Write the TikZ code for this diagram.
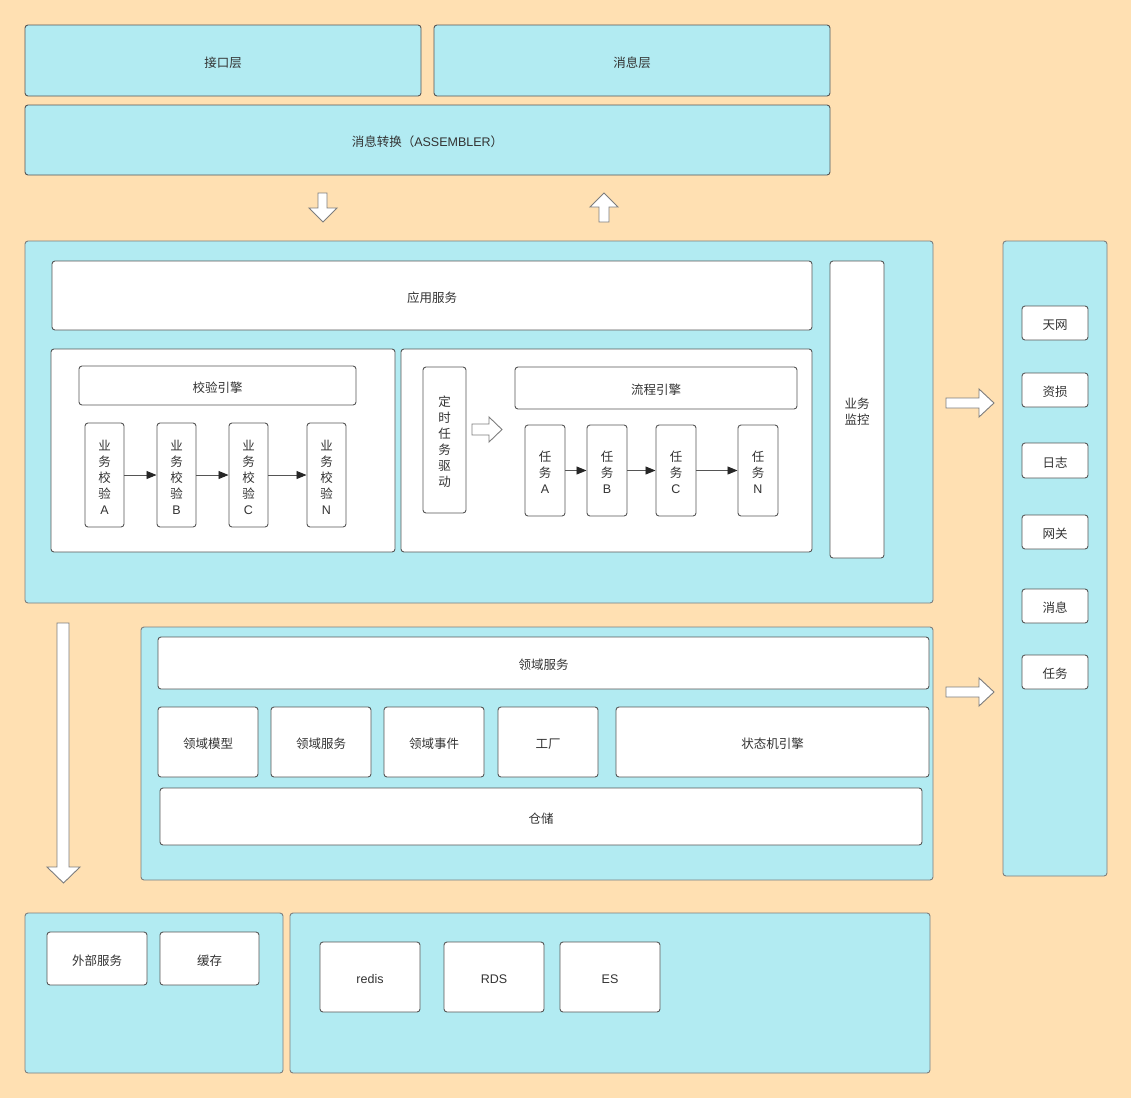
\documentclass[tikz,border=0pt]{standalone}
\usepackage{fontspec}
\setmainfont{Noto Sans CJK SC}
\newfontfamily\lat{Liberation Sans}
\usetikzlibrary{arrows.meta}
\definecolor{peach}{RGB}{255,224,178}
\definecolor{cyanbg}{RGB}{178,235,242}
\definecolor{pborder}{RGB}{125,125,125}
\definecolor{bborder}{RGB}{85,85,85}
\definecolor{txt}{RGB}{51,51,51}
\newcommand\mkbox[7][]{\node[#1,minimum width={#5pt-#3pt},minimum height={#6pt-#4pt}] (#2) at ({(#3+#5)/2},{(#4+#6)/2}) {};
  \node[lbl] at ([yshift=-2pt]#2.center) {#7};}
\begin{document}
\begin{tikzpicture}[x=1pt,y=-1pt,
  every node/.style={inner sep=0pt,outer sep=0pt,text=txt,font=\fontsize{12.5}{16}\selectfont,align=center},
  lbl/.style={},
  panel/.style={draw=pborder,fill=cyanbg,line width=0.9pt,rounded corners=3pt},
  wbox/.style={draw=bborder,fill=white,line width=0.9pt,rounded corners=3pt},
  cbox/.style={draw=bborder,fill=cyanbg,line width=0.9pt,rounded corners=3pt},
  conn/.style={draw=bborder,line width=0.9pt,-{Triangle[length=10pt,width=8pt,fill=black!85,color=black!85]},shorten >=0.5pt},
  harrow/.style={draw=pborder,fill=white,line width=0.9pt,line join=miter}]
\fill[peach] (0,0) rectangle (1131,1098);
\useasboundingbox (0,0) rectangle (1131,1098);

% top layers
\mkbox[cbox]{jiekou}{25}{25}{421}{96}{接口层}
\mkbox[cbox]{xiaoxi}{434}{25}{830}{96}{消息层}
\mkbox[cbox]{zhuanhuan}{25}{105}{830}{175}{消息转换（{\lat ASSEMBLER}）}

% hollow arrows between top and app
\draw[harrow] (318,193) -- (327,193) -- (327,208) -- (337,208) -- (323,222) -- (309,208) -- (318,208) -- cycle;
\draw[harrow] (604,193) -- (618,207) -- (609,207) -- (609,222) -- (599,222) -- (599,207) -- (590,207) -- cycle;

% application panel
\mkbox[panel]{app}{25}{241}{933}{603}{}
\mkbox[wbox]{yingyong}{52}{261}{812}{330}{应用服务}
\mkbox[wbox]{jiankong}{830}{261}{884}{558}{业务\\监控}
\mkbox[wbox]{leftsub}{51}{349}{395}{552}{}
\mkbox[wbox]{jiaoyan}{79}{366}{356}{405}{校验引擎}
\mkbox[wbox]{va}{85}{423}{124}{527}{业\\务\\校\\验\\{\lat A}}
\mkbox[wbox]{vb}{157}{423}{196}{527}{业\\务\\校\\验\\{\lat B}}
\mkbox[wbox]{vc}{229}{423}{268}{527}{业\\务\\校\\验\\{\lat C}}
\mkbox[wbox]{vn}{307}{423}{346}{527}{业\\务\\校\\验\\{\lat N}}
\draw[conn] (va) -- (vb);
\draw[conn] (vb) -- (vc);
\draw[conn] (vc) -- (vn);

\mkbox[wbox]{rightsub}{401}{349}{812}{552}{}
\mkbox[wbox]{dingshi}{423}{367}{466}{513}{定\\时\\任\\务\\驱\\动}
\draw[harrow] (472,424) -- (489,424) -- (489,417) -- (502,429.5) -- (489,442) -- (489,435) -- (472,435) -- cycle;
\mkbox[wbox]{liucheng}{515}{367}{797}{409}{流程引擎}
\mkbox[wbox]{ta}{525}{425}{565}{516}{任\\务\\{\lat A}}
\mkbox[wbox]{tb}{587}{425}{627}{516}{任\\务\\{\lat B}}
\mkbox[wbox]{tc}{656}{425}{696}{516}{任\\务\\{\lat C}}
\mkbox[wbox]{tn}{738}{425}{778}{516}{任\\务\\{\lat N}}
\draw[conn] (ta) -- (tb);
\draw[conn] (tb) -- (tc);
\draw[conn] (tc) -- (tn);

% right panel
\mkbox[panel]{rpanel}{1003}{241}{1107}{876}{}
\mkbox[wbox]{tianwang}{1022}{306}{1088}{340}{天网}
\mkbox[wbox]{zisun}{1022}{373}{1088}{407}{资损}
\mkbox[wbox]{rizhi}{1022}{443}{1088}{478}{日志}
\mkbox[wbox]{wangguan}{1022}{515}{1088}{549}{网关}
\mkbox[wbox]{xiaoxi2}{1022}{589}{1088}{623}{消息}
\mkbox[wbox]{renwu}{1022}{655}{1088}{689}{任务}

\draw[harrow] (946,398) -- (979,398) -- (979,389) -- (994,403) -- (979,417) -- (979,408) -- (946,408) -- cycle;
\draw[harrow] (946,687) -- (979,687) -- (979,678) -- (994,692) -- (979,706) -- (979,697) -- (946,697) -- cycle;

% long down arrow
\draw[harrow] (57,623) -- (69,623) -- (69,867) -- (80,867) -- (63.5,883) -- (47,867) -- (57,867) -- cycle;

% domain panel
\mkbox[panel]{domain}{141}{627}{933}{880}{}
\mkbox[wbox]{lingyu}{158}{637}{929}{689}{领域服务}
\mkbox[wbox]{moxing}{158}{707}{258}{777}{领域模型}
\mkbox[wbox]{lyfw}{271}{707}{371}{777}{领域服务}
\mkbox[wbox]{shijian}{384}{707}{484}{777}{领域事件}
\mkbox[wbox]{gongchang}{498}{707}{598}{777}{工厂}
\mkbox[wbox]{zhuangtai}{616}{707}{929}{777}{状态机引擎}
\mkbox[wbox]{cangchu}{160}{788}{922}{845}{仓储}

% bottom panels
\mkbox[panel]{blpanel}{25}{913}{283}{1073}{}
\mkbox[wbox]{waibu}{47}{932}{147}{985}{外部服务}
\mkbox[wbox]{huancun}{160}{932}{259}{985}{缓存}
\mkbox[panel]{brpanel}{290}{913}{930}{1073}{}
\mkbox[wbox]{redis}{320}{942}{420}{1012}{{\lat redis}}
\mkbox[wbox]{rds}{444}{942}{544}{1012}{{\lat RDS}}
\mkbox[wbox]{es}{560}{942}{660}{1012}{{\lat ES}}
\end{tikzpicture}
\end{document}
